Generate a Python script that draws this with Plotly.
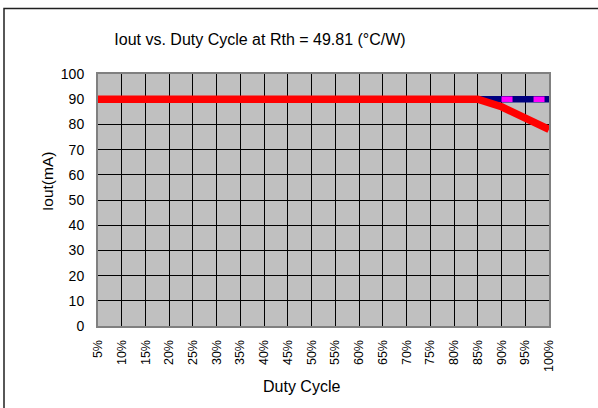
import plotly.graph_objects as go

duty = [5, 10, 15, 20, 25, 30, 35, 40, 45, 50, 55, 60, 65, 70, 75, 80, 85, 90, 95, 100]
tick_labels = [f"{d}%" for d in duty]
iout_max = [90] * 20
iout_limit = [90] * 20
iout_actual = [90] * 17 + [87, 82.5, 78]

W, H = 598, 408
L, R, T, B = 98, 49, 74, 82
pw, ph = W - L - R, H - T - B

fig = go.Figure()
fig.add_trace(go.Scatter(x=duty, y=iout_max, mode="lines",
                         line=dict(color="#000080", width=6.5), showlegend=False))
fig.add_trace(go.Scatter(x=duty[17:], y=iout_limit[17:], mode="lines",
                         line=dict(color="#FF00FF", width=5.5, dash="11px,21px"), showlegend=False))
fig.add_trace(go.Scatter(x=duty, y=iout_actual, mode="lines",
                         line=dict(color="#FF0000", width=7.5), showlegend=False))

font = "Liberation Sans, Arial, sans-serif"

def px2paper_x(px):
    return (px - L) / pw

def px2paper_y(py):
    return 1 - (py - T) / ph

fig.update_layout(
    width=W, height=H,
    margin=dict(l=L, r=R, t=T, b=B),
    paper_bgcolor="white",
    plot_bgcolor="#C0C0C0",
    font=dict(family=font, color="black", size=14),
    title=dict(text="Iout vs. Duty Cycle at Rth = 49.81 (°C/W)",
               x=260 / W, y=1 - 39 / H, xanchor="center", yanchor="middle",
               font=dict(size=16, family=font, color="black")),
    xaxis=dict(range=[5, 100], tickmode="array", tickvals=duty, ticktext=tick_labels,
               tickangle=-90, tickfont=dict(size=12.5), showgrid=True,
               gridcolor="black", gridwidth=1, showline=True, linecolor="#808080",
               linewidth=2, mirror=True, ticks="outside", ticklen=7,
               tickcolor="rgba(0,0,0,0)", zeroline=False, fixedrange=True),
    yaxis=dict(range=[0, 100], dtick=10, tickfont=dict(size=14), showgrid=True,
               gridcolor="black", gridwidth=1, showline=True, linecolor="#808080",
               linewidth=2, mirror=True, ticks="outside", ticklen=9,
               tickcolor="rgba(0,0,0,0)", zeroline=False, fixedrange=True),
    annotations=[
        dict(text="Duty Cycle", xref="paper", yref="paper",
             x=px2paper_x(301), y=px2paper_y(386), xanchor="center", yanchor="middle",
             showarrow=False, font=dict(size=16)),
        dict(text="Iout(mA)", xref="paper", yref="paper", textangle=-90,
             x=px2paper_x(47), y=px2paper_y(182), xanchor="center", yanchor="middle",
             showarrow=False, font=dict(size=15.5)),
    ],
    shapes=[
        dict(type="rect", xref="paper", yref="paper",
             x0=px2paper_x(4), x1=px2paper_x(W + 20),
             y0=px2paper_y(H + 20), y1=px2paper_y(8.5),
             line=dict(color="#202020", width=1.5), fillcolor="rgba(0,0,0,0)", layer="below"),
    ],
)

fig.write_html("out.html", config={"displayModeBar": False},
               post_script="document.body.style.margin='0';document.body.style.overflow='hidden';")
